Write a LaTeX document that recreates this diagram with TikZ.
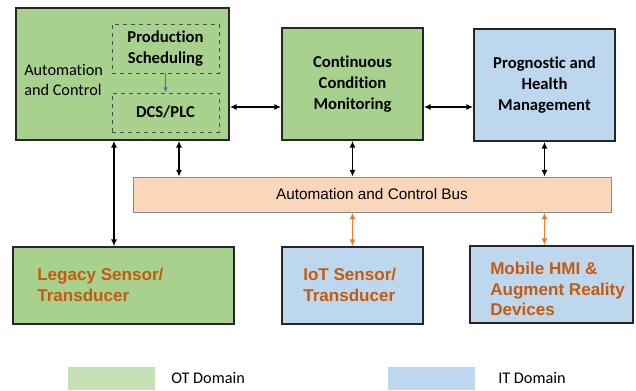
\documentclass[tikz,border=0pt]{standalone}
\usepackage{fontspec}
\setmainfont{Carlito}[Ligatures=NoCommon]
\newfontfamily\arialfont{Liberation Sans}
\usetikzlibrary{arrows.meta}
\definecolor{otgreen}{RGB}{169,209,142}
\definecolor{itblue}{RGB}{189,215,238}
\definecolor{buspeach}{RGB}{250,214,186}
\definecolor{legendgreen}{RGB}{197,224,180}
\definecolor{legendblue}{RGB}{189,215,238}
\definecolor{devorange}{RGB}{197,90,17}
\definecolor{linkorange}{RGB}{237,125,49}
\definecolor{linkblue}{RGB}{68,114,196}
\newcommand{\boxfont}{\fontsize{12.5}{15.5}\selectfont\bfseries}
\newcommand{\labelfont}{\fontsize{12.2}{15}\selectfont}
\newcommand{\busfont}{\arialfont\fontsize{11.5}{14}\selectfont}
\newcommand{\devfont}{\arialfont\bfseries\fontsize{12.8}{15.4}\selectfont}
\tikzset{
    basebox/.style={
        align=center,
        draw=black!85,
        line width=1.3pt,
        inner sep=0pt,
        font=\boxfont
    },
    otbox/.style={basebox, fill=otgreen},
    itbox/.style={basebox, fill=itblue},
    subbox/.style={basebox, draw=black!70, dashed, line width=0.6pt, minimum width=80.25pt},
    busbox/.style={draw=black!45, line width=0.6pt, fill=buspeach, inner sep=0pt, font=\busfont},
    devtext/.style={anchor=west, align=left, text=devorange, font=\devfont, inner sep=0pt},
    legendbox/.style={inner sep=0pt, minimum width=65.25pt, minimum height=17.25pt},
    legendtext/.style={anchor=west, inner sep=0pt, font=\labelfont},
    myarrow/.style={{Latex[length=5pt,width=4.5pt]}-{Latex[length=5pt,width=4.5pt]}, line width=1pt, draw=black},
    orangearrow/.style={myarrow, draw=linkorange},
    bluearrow/.style={-{Latex[length=4pt,width=3.5pt]}, line width=0.8pt, draw=linkblue}
}

\begin{document}
\begin{tikzpicture}[x=0.75pt, y=-0.75pt]

    \useasboundingbox (0,0) rectangle (636,391);

    % 1. Fila superior (OT / IT)
    \node[otbox, minimum width=159.75pt, minimum height=99pt] (acbox) at (122.5,74) {};
    \node[anchor=west, align=left, inner sep=0pt, font=\labelfont] (aclabel) at (24,80) {Automation\\and Control};
    \node[subbox, minimum height=36.75pt] (prodsched) at (165.5,48.5) {Production\\Scheduling};
    \node[subbox, minimum height=29.25pt] (dcs) at (165.5,112.5) {DCS/PLC};

    \node[otbox, minimum width=105.75pt, minimum height=84pt] (ccm) at (352.5,84) {Continuous\\Condition\\Monitoring};
    \node[itbox, minimum width=105.75pt, minimum height=84pt] (phm) at (544.5,85) {Prognostic and\\Health\\Management};

    % 2. Bus
    \node[busbox, minimum width=358.5pt, minimum height=26.25pt] (bus) at (372,194.5) {Automation and Control Bus};

    % 3. Fila inferior (sensores / dispositivos)
    \node[otbox, minimum width=165.75pt, minimum height=57.75pt] (legacy) at (123.5,285.5) {};
    \node[devtext] (legacytxt) at (37,285) {Legacy Sensor/\\Transducer};
    \node[itbox, minimum width=105.75pt, minimum height=57.75pt] (iot) at (352.5,285.5) {};
    \node[devtext] (iottxt) at (303,285) {IoT Sensor/\\Transducer};
    \node[itbox, minimum width=122.25pt, minimum height=57.75pt] (mobile) at (551.5,284.5) {};
    \node[devtext] (mobiletxt) at (490,289) {Mobile HMI \&\\Augment Reality\\Devices};

    % 4. Leyenda
    \node[legendbox, fill=legendgreen] (otkey) at (111.5,378.5) {};
    \node[legendtext] (ottxt) at (171,378) {OT Domain};
    \node[legendbox, fill=legendblue] (itkey) at (431,378.5) {};
    \node[legendtext] (ittxt) at (498,378) {IT Domain};

    % Conexiones (Flechas)
    \draw[bluearrow] (prodsched.south) -- (dcs.north);
    \draw[myarrow] (acbox.east |- 0,107) -- (ccm.west |- 0,107);
    \draw[myarrow] (ccm.east |- 0,107) -- (phm.west |- 0,107);

    \draw[myarrow] (acbox.south -| 114,0) -- (legacy.north -| 114,0);
    \draw[myarrow] (acbox.south -| 179,0) -- (bus.north -| 179,0);
    \draw[myarrow] (ccm.south) -- (bus.north -| ccm.south);
    \draw[myarrow] (phm.south) -- (bus.north -| phm.south);

    \draw[orangearrow] (bus.south -| iot.north) -- (iot.north);
    \draw[orangearrow] (bus.south -| phm.south) -- (mobile.north -| phm.south);

\end{tikzpicture}
\end{document}
